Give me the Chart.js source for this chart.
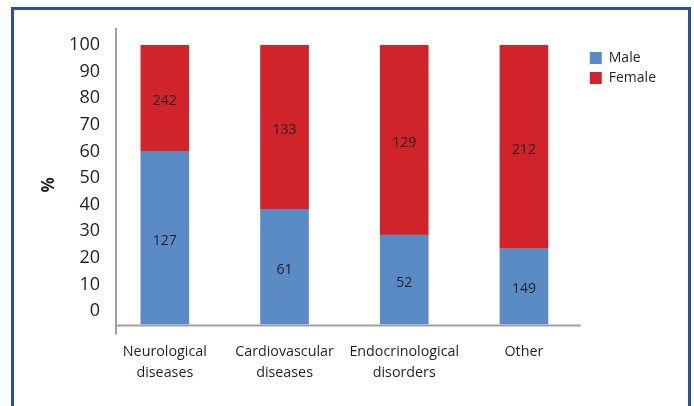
<!DOCTYPE html>
<html lang="en">
  <head>
    <meta charset="utf-8" />
    <title>Male / Female share by disease group</title>
    <script src="https://cdn.jsdelivr.net/npm/chart.js@4.4.0/dist/chart.umd.min.js"></script>
    <style>
      html, body {
        margin: 0;
        padding: 0;
        background: #fff;
        overflow: hidden;
      }
      #frame {
        position: absolute;
        left: 11px;
        top: 7px;
        width: 674px;
        height: 440px;
        border: 3px solid #2b4ea3;
      }
      #wrap {
        position: absolute;
        left: 0;
        top: 0;
        width: 694px;
        height: 406px;
      }
    </style>
  </head>
  <body>
    <div id="frame"></div>
    <div id="wrap"><canvas id="chart"></canvas></div>

    <script>
      // --- data ---------------------------------------------------------
      const categories = [
        ["Neurological", "diseases"],
        ["Cardiovascular", "diseases"],
        ["Endocrinological", "disorders"],
        ["Other"],
      ];
      // share in % (bar heights)
      const malePct = [62, 41.2, 32, 27.2];
      const femalePct = malePct.map((v) => 100 - v);
      // counts printed on the bars
      const maleCounts = [127, 61, 52, 149];
      const femaleCounts = [242, 133, 129, 212];
      const yTicks = [0, 10, 20, 30, 40, 50, 60, 70, 80, 90, 100];

      const TEXT = "#231f20";
      const FONT = "'Open Sans', 'Noto Sans', sans-serif";

      // counts in the middle of each segment
      const countLabels = {
        id: "countLabels",
        afterDatasetsDraw(chart) {
          const ctx = chart.ctx;
          ctx.save();
          ctx.font = "14px " + FONT;
          ctx.fillStyle = TEXT;
          ctx.textAlign = "center";
          ctx.textBaseline = "middle";
          chart.data.datasets.forEach((ds, i) => {
            chart.getDatasetMeta(i).data.forEach((bar, j) => {
              const mid = (bar.y + bar.base) / 2;
              ctx.fillText(ds.counts[j], bar.x, mid + 3);
            });
          });
          ctx.restore();
        },
      };

      // grey axis lines like the original
      const axisLines = {
        id: "axisLines",
        afterDraw(chart) {
          const { left, right, top, bottom } = chart.chartArea;
          const ctx = chart.ctx;
          const x0 = left + 11;
          ctx.save();
          ctx.strokeStyle = "#a0a0a2";
          ctx.lineWidth = 2;
          ctx.beginPath();
          ctx.moveTo(x0, top - 17);
          ctx.lineTo(x0, bottom + 10);
          ctx.moveTo(x0, bottom + 1);
          ctx.lineTo(right - 3, bottom + 1);
          ctx.stroke();
          ctx.restore();
        },
      };

      new Chart(document.getElementById("chart"), {
        type: "bar",
        data: {
          labels: categories,
          datasets: [
            {
              label: "Male",
              data: malePct,
              counts: maleCounts,
              backgroundColor: "#5b8bc5",
              barThickness: 48,
            },
            {
              label: "Female",
              data: femalePct,
              counts: femaleCounts,
              backgroundColor: "#d1232a",
              barThickness: 48,
            },
          ],
        },
        options: {
          responsive: true,
          maintainAspectRatio: false,
          animation: false,
          layout: { padding: { left: 31, right: 28, top: 45, bottom: 6 } },
          scales: {
            x: {
              stacked: true,
              grid: { display: false, drawTicks: false },
              border: { display: false },
              ticks: {
                color: TEXT,
                font: { family: FONT, size: 14.3, lineHeight: 1.45 },
                padding: 17,
                maxRotation: 0,
              },
            },
            y: {
              stacked: true,
              display: false,
              min: 0,
              max: 100,
            },
            y2: {
              position: "left",
              min: -5,
              max: 100,
              grid: { display: false, drawTicks: false },
              border: { display: false },
              afterBuildTicks: (axis) => {
                axis.ticks = yTicks.map((v) => ({ value: v }));
              },
              afterFit: (axis) => {
                axis.width = 74;
              },
              ticks: {
                color: TEXT,
                font: { family: FONT, size: 18 },
                padding: 5,
              },
              title: {
                display: true,
                text: "%",
                color: TEXT,
                font: { family: FONT, size: 17, weight: "bold" },
                padding: { top: 8, bottom: 0 },
              },
            },
          },
          plugins: {
            legend: {
              position: "right",
              align: "start",
              fullSize: false,
              labels: {
                boxWidth: 12,
                boxHeight: 12,
                padding: 6,
                color: TEXT,
                font: { family: FONT, size: 14 },
              },
            },
            tooltip: { enabled: false },
          },
        },
        plugins: [countLabels, axisLines],
      });
    </script>
  </body>
</html>
